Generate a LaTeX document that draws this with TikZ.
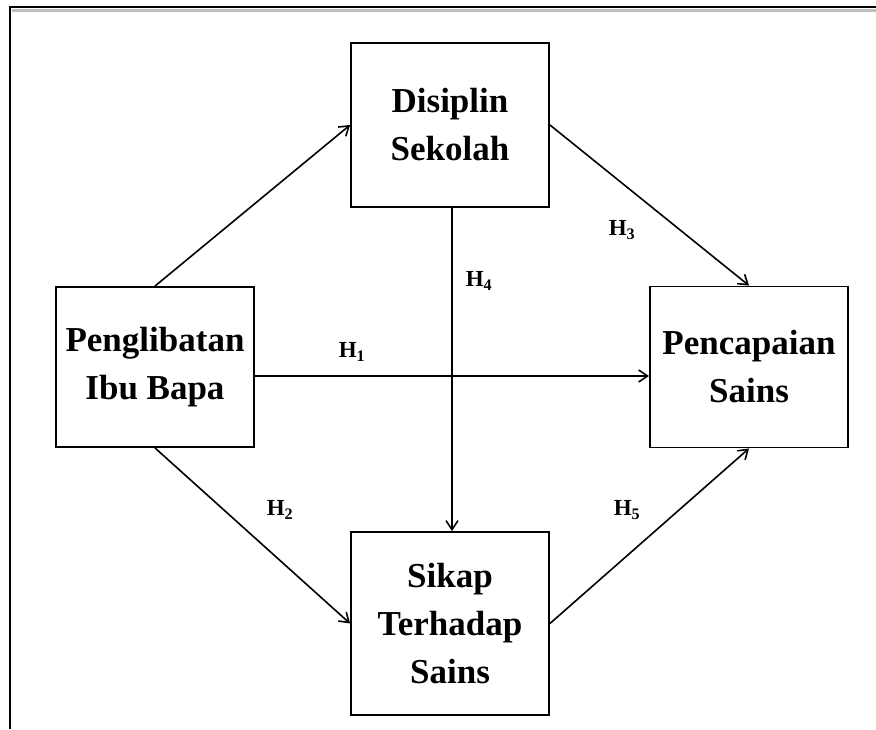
\documentclass[tikz,border=0pt]{standalone}
\usepackage{fontspec}
\setmainfont{Liberation Serif}
\usepackage{tikz}
\usetikzlibrary{arrows.meta}
\tikzset{>={Straight Barb[length=9pt,width=12pt]}}
\tikzset{
  varbox/.style={draw, line width=1.9pt, minimum width=198pt, align=center,
    inner sep=0pt, font=\fontsize{35}{48}\selectfont\bfseries},
  hlabel/.style={font=\fontsize{23}{26}\selectfont\bfseries}
}

\begin{document}
\begin{tikzpicture}[x=1pt, y=-1pt]
                \useasboundingbox (0,0) rectangle (876,729);
                % Bingkai luar (hanya sisi atas dan kiri kelihatan)
                \draw[black!25, line width=2.5pt] (12,10.5) -- (876,10.5);
                \draw[line width=2pt] (10,729) -- (10,7) -- (876,7);
                % Pemboleh ubah
                \node[varbox, minimum height=160pt] (pib) at (155,367) {Penglibatan\\Ibu Bapa};
                \node[varbox, minimum height=161pt] (pcs) at (749,367) {Pencapaian\\Sains};
                \node[varbox, minimum height=164pt] (dis) at (450,125) {Disiplin\\Sekolah};
                \node[varbox, minimum height=183pt] (sik) at (450,623.5) {Sikap\\Terhadap\\Sains};
                % Laluan ke Disiplin Sekolah
                \draw[->, line width=1.6pt] (pib.north) -- (dis.west);
                % H3: Disiplin -> Pencapaian
                \draw[->, line width=1.6pt] (dis.east) -- (pcs.north);
                % H1: Penglibatan -> Pencapaian
                \draw[->, line width=1.6pt] ([yshift=-9pt]pib.east) -- ([yshift=-9pt]pcs.west);
                % H4: Disiplin -> Sikap
                \draw[->, line width=1.6pt] ([xshift=2pt]dis.south) -- ([xshift=2pt]sik.north);
                % H2: Penglibatan -> Sikap
                \draw[->, line width=1.6pt] (pib.south) -- (sik.west);
                % H5: Sikap -> Pencapaian
                \draw[->, line width=1.6pt] (sik.east) -- (pcs.south);
                % Label hipotesis
                \node[hlabel] (l1) at (352,352) {H\textsubscript{1}};
                \node[hlabel] (l2) at (280,510) {H\textsubscript{2}};
                \node[hlabel] (l3) at (622,230) {H\textsubscript{3}};
                \node[hlabel] (l4) at (479,281) {H\textsubscript{4}};
                \node[hlabel] (l5) at (627,510) {H\textsubscript{5}};
            \end{tikzpicture}
\end{document}
